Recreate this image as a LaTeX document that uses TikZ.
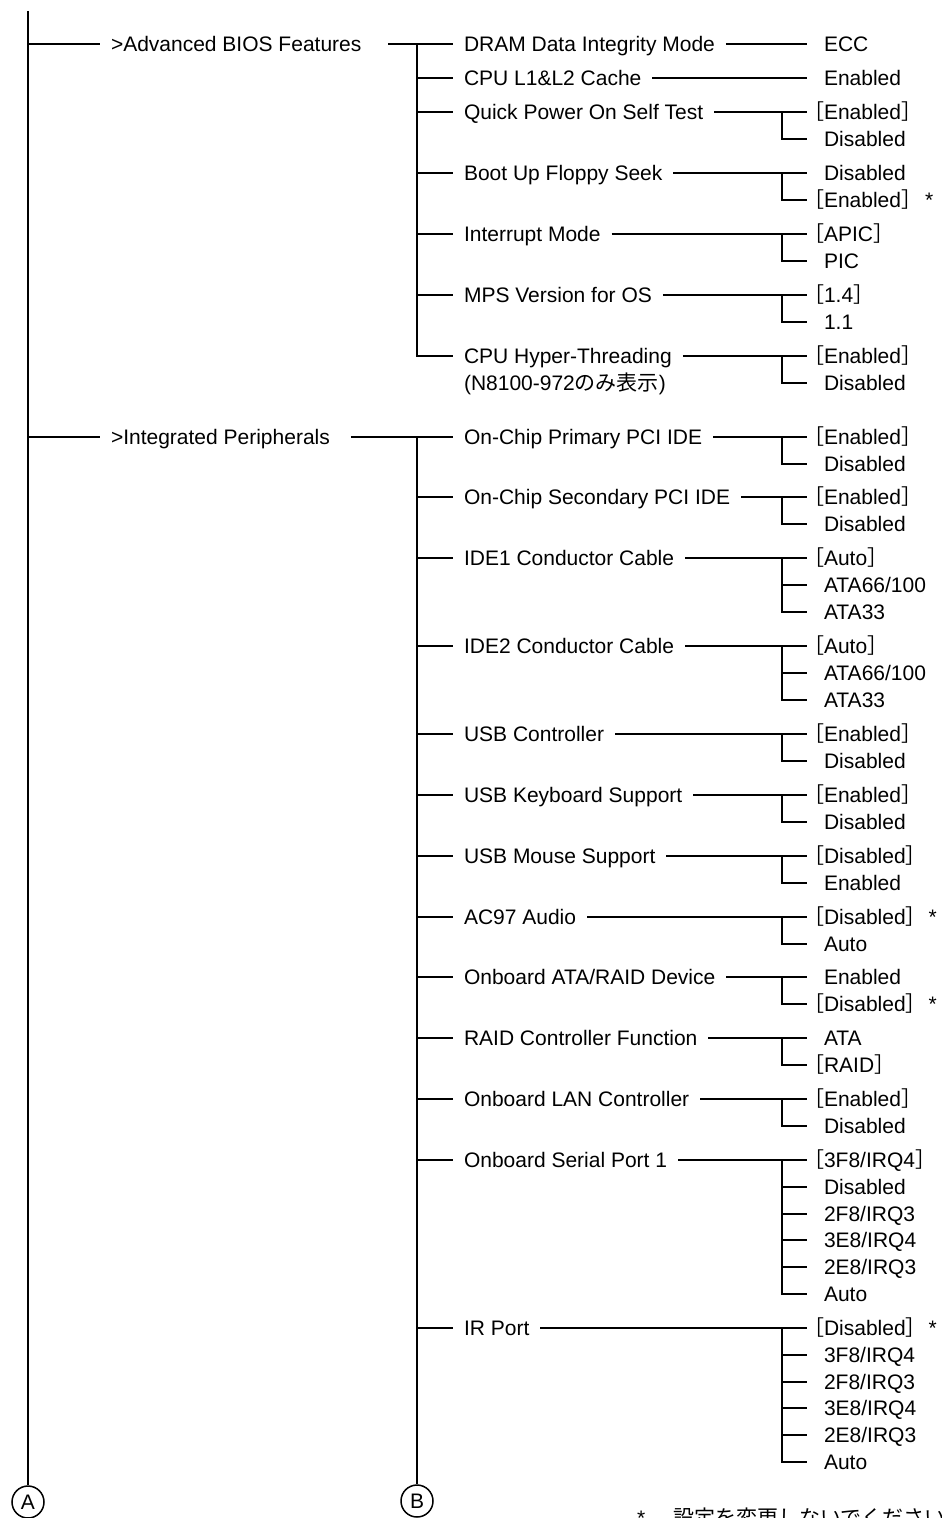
\documentclass[tikz,border=0pt]{standalone}
\usepackage{fontspec}
\setmainfont{Liberation Sans}
\newfontfamily\cjk{Noto Sans CJK JP}

\newcommand{\dflt}[1]{\llap{\cjk ［}#1{\cjk ］}}
\newcommand{\setting}[4]{%
\node[item] (#1) at (453,#2) {#3};
\draw (ij |- #1.west) -- (#1.west);
\foreach \val [count=\k] in {#4}
{
\node[opt] (#1-\k) at (807,{#2+26.8*(\k-1)}) {\val};
\ifnum\k>1 \draw (oj |- #1-1.west) |- (#1-\k.west); \fi
}
\draw (#1.east) -- (#1-1.west);
}

\tikzset{
menu/.style={anchor=west, inner xsep=5pt, inner ysep=0pt, text height=8.4pt, text depth=0.88pt},
item/.style={menu},
opt/.style={menu, inner xsep=8pt},
circ/.style={draw, circle, minimum size=16pt, inner sep=0pt, line width=0.75pt}
}

\begin{document}
\begin{tikzpicture}[x=0.5pt, y=-0.5pt, line width=1pt, font=\fontsize{10.5}{12}\selectfont]

\useasboundingbox (0,0) rectangle (941,1518);

\coordinate (top) at (28,11);
\coordinate (ij) at (417,0);
\coordinate (oj) at (782,0);

\node[circ] (A) at (28,1502) {A};
\node[circ] (B) at (417,1501) {B};
\draw (top) -- (A);

\node[menu] (adv) at (100,44) {>Advanced BIOS Features};
\node[menu] (per) at (100,437) {>Integrated Peripherals};
\draw (top |- adv.west) -- (adv.west);
\draw (top |- per.west) -- (per.west);

\setting{adv1}{44}{DRAM Data Integrity Mode}{ECC}
\setting{adv2}{78}{CPU L1\&L2 Cache}{Enabled}
\setting{adv3}{112}{Quick Power On Self Test}{\dflt{Enabled},Disabled}
\setting{adv4}{173}{Boot Up Floppy Seek}{Disabled,\dflt{Enabled}\hspace{1.5pt}*}
\setting{adv5}{234}{Interrupt Mode}{\dflt{APIC},PIC}
\setting{adv6}{295}{MPS Version for OS}{\dflt{1.4},1.1}
\setting{adv7}{356}{CPU Hyper-Threading}{\dflt{Enabled},Disabled}
\node[item] (hypernote) at (453,383) {(N8100-972{\cjk のみ表示})};

\setting{per1}{437}{On-Chip Primary PCI IDE}{\dflt{Enabled},Disabled}
\setting{per2}{497}{On-Chip Secondary PCI IDE}{\dflt{Enabled},Disabled}
\setting{per3}{558}{IDE1 Conductor Cable}{\dflt{Auto},ATA66/100,ATA33}
\setting{per4}{646}{IDE2 Conductor Cable}{\dflt{Auto},ATA66/100,ATA33}
\setting{per5}{734}{USB Controller}{\dflt{Enabled},Disabled}
\setting{per6}{795}{USB Keyboard Support}{\dflt{Enabled},Disabled}
\setting{per7}{856}{USB Mouse Support}{\dflt{Disabled},Enabled}
\setting{per8}{917}{AC97 Audio}{\dflt{Disabled}\hspace{1pt}*,Auto}
\setting{per9}{977}{Onboard ATA/RAID Device}{Enabled,\dflt{Disabled}\hspace{1pt}*}
\setting{per10}{1038}{RAID Controller Function}{ATA,\dflt{RAID}}
\setting{per11}{1099}{Onboard LAN Controller}{\dflt{Enabled},Disabled}
\setting{per12}{1160}{Onboard Serial Port 1}{\dflt{3F8/IRQ4},Disabled,2F8/IRQ3,3E8/IRQ4,2E8/IRQ3,Auto}
\setting{per13}{1328}{IR Port}{\dflt{Disabled}\hspace{1pt}*,3F8/IRQ4,2F8/IRQ3,3E8/IRQ4,2E8/IRQ3,Auto}

\draw[shorten <=8pt] (adv.east) -- (adv1.west);
\draw[shorten <=5pt] (per.east) -- (per1.west);
\draw (ij |- adv1.west) |- (adv7.west);
\draw (ij |- per1.west) -- (B);

\node[anchor=base west, inner sep=0pt] (note) at (636,1525) {*\hspace{14pt}{\cjk 設定を変更しないでください}};

\end{tikzpicture}
\end{document}
